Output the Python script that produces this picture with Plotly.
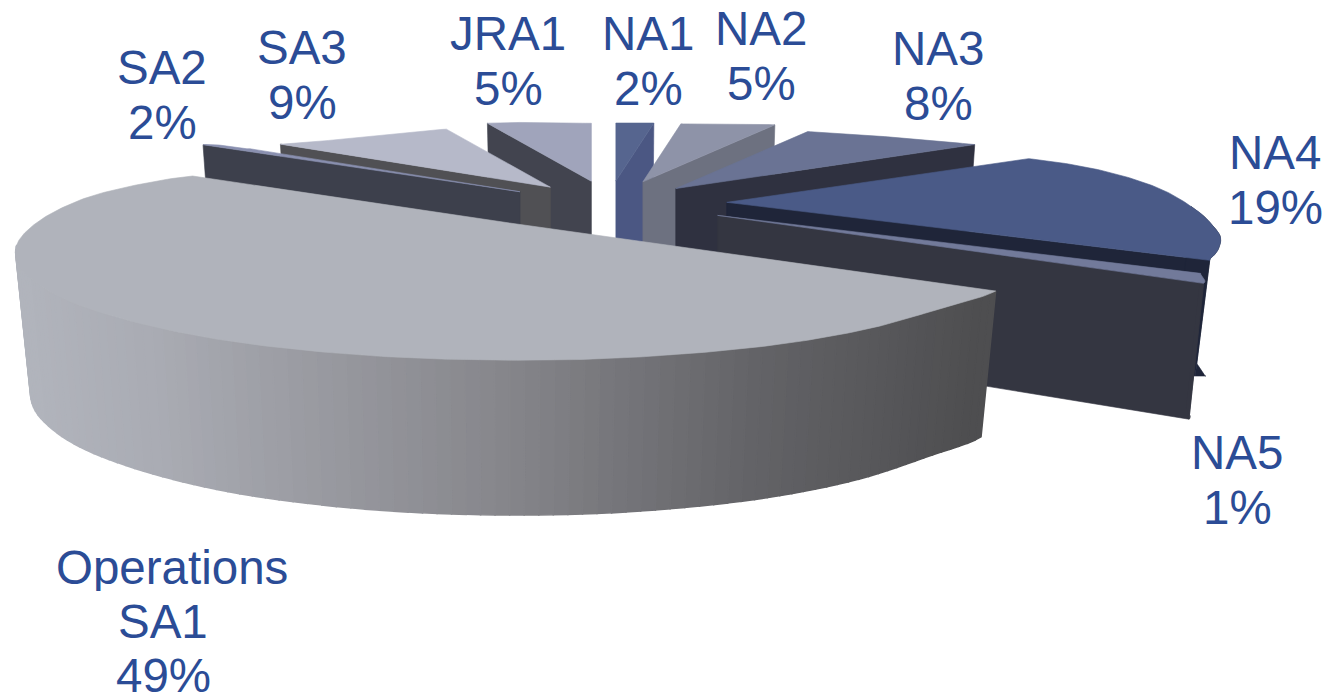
import numpy as np
import plotly.graph_objects as go

# ---- data ----
slices = ["NA1", "NA2", "NA3", "NA4", "NA5", "SA1", "SA2", "SA3", "JRA1"]
label_lines = [["NA1"], ["NA2"], ["NA3"], ["NA4"], ["NA5"], ["Operations", "SA1"], ["SA2"], ["SA3"], ["JRA1"]]
values = [2, 5, 8, 19, 1, 49, 2, 9, 5]
pull_x = [1.0, 1.0, 0.85, 0.95, 1.06, 1.4, 0.87, 0.82, 0.85]
pull_y = [1.0, 1.0, 0.85, 0.95, 1.0, 1.1, 0.87, 0.87, 1.0]

# ---- styles ----
top_col = ["#56658f", "#8e93a8", "#6a7394", "#4a5a87", "#727a9a", "#b0b3bb", "#8a90b0", "#b6b9c9", "#a0a4bb"]
wall_col = ["#4b5783", "#6d7180", "#2f3140", "#1f2539", "#343641", "#808086", "#3d404c", "#505054", "#42444f"]
paint_order = ["JRA1", "NA1", "NA2", "NA3", "SA3", "SA2", "NA4", "NA5", "SA1"]
text_col = "#2b4c96"
font_size = 47.5
line_gap = 55
label_pos = {"NA1": (648, 33), "NA2": (761, 28), "NA3": (938, 48), "NA4": (1275, 152), "NA5": (1237, 452),
             "SA1": (163, 567), "SA2": (162, 67), "SA3": (302, 47), "JRA1": (508, 33)}
long_line_dx = {"Operations": 9}

# ---- perspective calibration of the pie's rim (angle clockwise from top -> screen offset) ----
cal_a = [0, 7.2, 25.2, 54, 66, 78, 90, 100, 108, 116, 122.4, 126, 135, 148, 161, 175, 188, 201, 214, 227, 240, 252,
         262, 272, 282, 292, 302.4, 309.6, 342, 360]
cal_x = [0, 38, 132, 299, 370, 430, 470, 490, 494, 490, 483, 486, 436, 353, 248, 110, -20, -149, -274, -371, -443, -483,
         -494, -485, -454, -404, -317, -270, -104, 0]
cal_y = [-58, -58, -57, -44, -33, -15, 8, 28, 38, 50, 58, 68, 84, 107, 124, 135, 137, 132, 119, 100, 77, 52,
         30, 10, -12, -31, -47, -43, -58, -58]
centre = (608, 203)
pull_scale = (125, 22)
depth = 137
depth_adjust = {"NA5": -10}
bottom_limit = {"NA4": 376}


def hermite(v):
    """Periodic Catmull-Rom through the calibration points."""
    a = np.array(cal_a, float)
    y = np.array(v, float)
    aa = np.r_[a[-2] - 360, a, a[1] + 360]
    yy = np.r_[y[-2], y, y[1]]
    m = (yy[2:] - yy[:-2]) / (aa[2:] - aa[:-2])

    def f(t):
        t = np.asarray(t, float)
        k = np.clip(np.searchsorted(a, t, side="right") - 1, 0, len(a) - 2)
        h = a[k + 1] - a[k]
        u = (t - a[k]) / h
        return ((2 * u**3 - 3 * u**2 + 1) * y[k] + (u**3 - 2 * u**2 + u) * h * m[k]
                + (-2 * u**3 + 3 * u**2) * y[k + 1] + (u**3 - u**2) * h * m[k + 1])
    return f


fx, fy = hermite(cal_x), hermite(cal_y)


def top_pt(ax, ay, a):
    return ax + fx(a), ay + fy(a)


def bot_pt(s, ax, ay, a):
    by = ay + 1.13 * fy(a) + depth + depth_adjust.get(s, 0)
    return ax + 0.97 * fx(a), np.minimum(by, bottom_limit.get(s, 1e9))


def poly(fig, xs, ys, col, w=0.6):
    fig.add_trace(go.Scatter(x=list(xs), y=list(ys), mode="lines", fill="toself", fillcolor=col,
                             line=dict(color=col, width=w), hoverinfo="skip", showlegend=False))


def lerp_col(x):
    stops_x = [14, 150, 500, 750, 985]
    stops = np.array([[178, 181, 189], [170, 172, 180], [135, 135, 140], [100, 100, 104], [78, 78, 80]], float)
    c = [np.interp(x, stops_x, stops[:, i]) for i in range(3)]
    return "rgb(%d,%d,%d)" % tuple(c)


fig = go.Figure()
edges = np.concatenate([[0], np.cumsum(values)]) * 360 / sum(values)
info = {}
for i, s in enumerate(slices):
    a1, a2 = edges[i], edges[i + 1]
    mid = np.radians((a1 + a2) / 2)
    ax = centre[0] + pull_scale[0] * pull_x[i] * np.sin(mid)
    ay = centre[1] - pull_scale[1] * pull_y[i] * np.cos(mid)
    info[s] = (i, a1, a2, ax, ay, (a1 + a2) / 2)

for s in paint_order:
    i, a1, a2, ax, ay, m = info[s]
    # visible radial wall
    if s != "SA1":
        wa = a2 if m < 180 else a1
        tx, ty = top_pt(ax, ay, wa)
        bx, by = bot_pt(s, ax, ay, wa)
        abx, aby = ax, ay + depth + depth_adjust.get(s, 0)
        poly(fig, [ax, tx, bx, abx, ax], [ay, ty, by, aby, ay], wall_col[i])
    # outer rim wall, front facing part only
    lo, hi = max(a1, 88), min(a2, 266)
    if hi > lo:
        if s == "SA1":
            steps = np.append(np.arange(lo, hi, 1.5), hi)
            for b1, b2 in zip(steps[:-1], steps[1:]):
                seg = np.linspace(b1, b2, 3)
                tx, ty = top_pt(ax, ay, seg)
                bx, by = bot_pt(s, ax, ay, seg)
                poly(fig, np.r_[tx, bx[::-1], tx[0]], np.r_[ty, by[::-1], ty[0]], lerp_col(tx.mean()), 1.5)
        else:
            seg = np.linspace(lo, hi, 30)
            tx, ty = top_pt(ax, ay, seg)
            bx, by = bot_pt(s, ax, ay, seg)
            poly(fig, np.r_[tx, bx[::-1], tx[0]], np.r_[ty, by[::-1], ty[0]], wall_col[i])
    # top face
    arc = np.linspace(a1, a2, max(3, int((a2 - a1) * 2)))
    tx, ty = top_pt(ax, ay, arc)
    poly(fig, np.r_[ax, tx, ax], np.r_[ay, ty, ay], top_col[i])

ann = []
for i, s in enumerate(slices):
    lx, ly = label_pos[s]
    lines = label_lines[i] + ["%d%%" % values[i]]
    for j, t in enumerate(lines):
        ann.append(dict(x=lx + long_line_dx.get(t, 0), y=ly + j * (54 if s == "SA1" else line_gap), text=t,
                        showarrow=False, xref="x", yref="y", xanchor="center", yanchor="middle", height=48,
                        font=dict(family="Liberation Sans", size=font_size, color=text_col)))

fig.update_layout(width=1326, height=699, margin=dict(l=0, r=0, t=0, b=0), paper_bgcolor="white",
                  plot_bgcolor="white", showlegend=False, annotations=ann,
                  xaxis=dict(range=[0, 1326], visible=False, fixedrange=True),
                  yaxis=dict(range=[699, 0], visible=False, fixedrange=True))
fig.write_html("out.html", config={"displayModeBar": False},
               post_script="document.body.style.margin='0';document.body.style.overflow='hidden';")
